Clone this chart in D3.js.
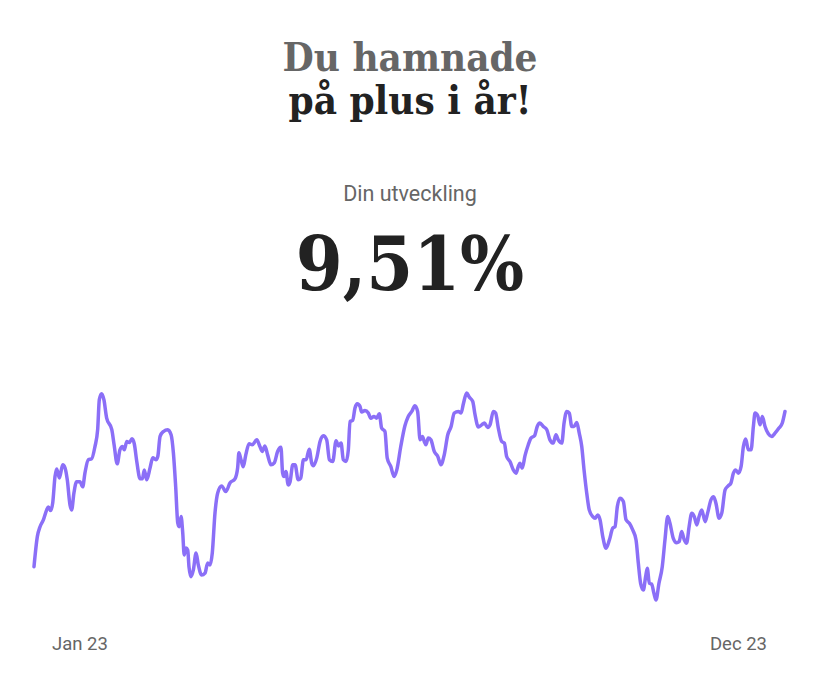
<!DOCTYPE html>
<html lang="sv">
<head>
<meta charset="UTF-8">
<title>Din utveckling</title>
<style>
  body { margin: 0; background: #fff; }
  .slab { font-family: "DejaVu Serif Condensed", "DejaVu Serif", serif; font-stretch: condensed; font-weight: bold; }
</style>
</head>
<body>
<svg id="vis"></svg>
<script src="https://d3js.org/d3.v7.min.js"></script>
<script>
// Data (day of year, development in %)
const days = [0, 1.6, 2.9, 4.5, 6.1, 6.9, 8.0, 9.0, 10.1, 10.9, 12.2, 13.8, 14.9, 16.0, 17.3, 18.1, 19.2, 20.5, 22.1, 23.4,
  24.5, 26.1, 27.7, 29.3, 30.6, 31.4, 32.5, 33.6, 34.9, 37.4, 38.5, 40.0, 41.3, 42.6, 43.4, 44.6, 45.8, 47.1, 48.2, 49.4,
  51.0, 52.1, 53.0, 54.2, 55.8, 57.1, 58.6, 59.5, 60.6, 62.2, 64.3, 65.9, 67.0, 68.1, 69.1, 69.8, 70.7, 71.5, 72.2, 73.1,
  73.9, 74.5, 75.5, 76.6, 77.9, 79.0, 80.6, 82.2, 83.5, 84.6, 85.7, 87.0, 88.3, 90.2, 92.2, 94.2, 96.6, 97.9, 98.5, 99.5,
  100.6, 101.8, 103.4, 104.9, 107.1, 108.6, 109.7, 111.0, 112.3, 113.9, 115.5, 117.1, 118.7, 119.5, 120.2, 121.1, 122.2, 123.1, 124.4, 125.5,
  127.0, 128.2, 129.5, 130.8, 132.3, 133.5, 134.3, 135.9, 137.5, 139.1, 140.7, 142.0, 143.6, 145.2, 146.3, 147.6, 148.7, 150.0, 151.1, 151.9,
  153.2, 154.3, 155.4, 156.7, 157.5, 159.1, 160.7, 161.9, 163.4, 164.7, 166.0, 167.1, 168.7, 169.8, 171.5, 173.1, 174.4, 176.3, 178.3, 179.9,
  181.6, 183.1, 184.4, 185.6, 186.7, 187.6, 188.4, 189.5, 190.8, 192.4, 194.1, 195.6, 197.2, 198.9, 200.5, 202.0, 204.0, 205.3, 206.4, 208.0,
  209.2, 210.9, 212.0, 213.6, 215.2, 216.5, 218.1, 219.2, 220.8, 221.9, 223.2, 224.8, 226.1, 227.2, 228.8, 230.4, 231.7, 232.8, 233.6, 234.7,
  236.0, 237.6, 238.9, 240.6, 241.9, 243.2, 244.8, 246.5, 248.0, 249.6, 250.9, 252.0, 253.7, 254.8, 256.1, 257.3, 258.5, 259.6, 260.9, 262.1,
  263.3, 264.4, 265.7, 266.9, 268.6, 269.7, 271.0, 272.1, 273.4, 275.0, 276.6, 278.2, 279.3, 280.4, 281.7, 283.3, 284.6, 286.2, 287.8, 289.4,
  290.5, 291.6, 292.9, 294.0, 294.8, 295.8, 296.9, 298.0, 299.0, 300.4, 302.0, 303.3, 304.6, 305.7, 307.3, 308.9, 310.1, 311.3, 312.6, 313.7,
  314.9, 316.2, 317.4, 318.6, 319.7, 321.0, 322.6, 323.8, 325.4, 326.7, 327.8, 329.3, 330.6, 332.2, 333.7, 335.0, 336.2, 337.3, 338.6, 339.9,
  341.0, 342.1, 343.4, 344.7, 345.8, 346.6, 347.9, 349.0, 350.1, 351.4, 353.0, 354.6, 356.2, 358.1, 359.7, 361.0]

const values = [0, 1.84, 2.45, 2.87, 3.48, 3.66, 3.44, 3.91, 5.52, 5.99, 5.44, 6.24, 6.06, 5.32, 3.79, 3.48, 4.52, 5.21, 5.21, 4.89,
  5.75, 6.55, 6.61, 7.36, 8.39, 10.23, 10.60, 10.23, 9.12, 8.39, 7.47, 6.30, 7.16, 7.36, 7.16, 7.67, 7.61, 7.83, 7.53, 6.44,
  5.38, 5.38, 5.93, 5.32, 6.06, 6.67, 6.55, 6.75, 7.98, 8.28, 8.39, 8.08, 6.98, 4.91, 2.68, 2.45, 3.07, 2.07, 0.72, 1.15,
  1.02, 0, -0.61, -0.20, 0.84, 0.10, -0.51, -0.39, 0.23, 0.10, 0.84, 3.29, 4.52, 4.95, 4.60, 5.13, 5.38, 6.06, 6.98, 6.55,
  6.12, 6.85, 7.53, 7.47, 7.77, 7.36, 7.06, 7.40, 6.85, 6.24, 6.36, 7.06, 7.31, 5.75, 5.52, 5.83, 5.01, 5.21, 6.24, 6.24,
  5.32, 5.42, 6.55, 6.55, 7.20, 6.34, 6.18, 6.65, 7.67, 8.02, 7.77, 6.55, 6.44, 7.71, 7.40, 7.57, 6.55, 6.44, 7.16, 8.90,
  8.96, 9.72, 9.98, 9.82, 9.47, 9.57, 9.41, 9.10, 9.20, 9.10, 9.37, 8.49, 8.28, 6.65, 6.14, 5.52, 5.93, 7.36, 8.63, 9.20,
  9.51, 9.86, 9.51, 7.77, 7.98, 7.67, 7.47, 7.88, 7.77, 7.06, 6.75, 6.24, 6.85, 8.08, 8.59, 9.41, 9.51, 9.41, 9.98, 10.64,
  10.39, 10.12, 9.31, 8.55, 8.69, 8.80, 8.53, 8.69, 9.51, 9.41, 8.49, 7.67, 7.57, 6.75, 6.44, 5.93, 5.73, 6.14, 6.34, 6.04,
  6.79, 7.47, 7.88, 8.02, 8.59, 8.80, 8.59, 8.39, 7.77, 7.57, 8.08, 7.77, 7.57, 8.80, 9.51, 9.41, 8.59, 8.59, 8.83, 8.18,
  7.36, 5.93, 4.50, 3.48, 3.07, 2.97, 3.17, 2.87, 1.84, 1.13, 1.64, 2.36, 2.45, 3.68, 4.20, 3.99, 2.87, 2.66, 2.25, 1.64,
  0.21, -1.02, -1.43, -0.61, -0.10, -1.02, -1.06, -1.63, -2.04, -1.02, 0, 1.64, 3.07, 2.66, 1.74, 1.47, 1.53, 2.15, 1.64, 1.44,
  2.45, 3.28, 3.07, 2.56, 3.07, 3.48, 2.76, 3.28, 4.09, 4.29, 3.89, 2.97, 3.28, 4.71, 4.95, 5.12, 5.73, 5.93, 5.73, 6.14,
  7.36, 7.82, 7.16, 7.16, 8.59, 9.41, 9.25, 8.69, 9.20, 8.59, 8.14, 7.98, 8.18, 8.49, 8.80, 9.51]

const titleLines = ['Du hamnade', 'på plus i år!']
const subtitle = 'Din utveckling'
const result = '9,51%'
const tickLabels = ['Jan 23', 'Dec 23']

const width = 820
const height = 680

const svg = d3.select('#vis')
  .attr('width', width)
  .attr('height', height)

const series = days.map((d, i) => ({ day: d, value: values[i] }))

// Heading
svg.append('text')
  .attr('class', 'slab')
  .attr('x', 410).attr('y', 71)
  .attr('text-anchor', 'middle')
  .style('font-size', '40px')
  .style('fill', '#666666')
  .text(titleLines[0])

svg.append('text')
  .attr('class', 'slab')
  .attr('x', 410).attr('y', 114)
  .attr('text-anchor', 'middle')
  .style('font-size', '40px')
  .style('fill', '#222222')
  .text(titleLines[1])

svg.append('text')
  .attr('x', 410).attr('y', 201)
  .attr('text-anchor', 'middle')
  .style('font-family', 'Roboto, sans-serif')
  .style('font-size', '21.5px')
  .style('fill', '#666666')
  .text(subtitle)

svg.append('text')
  .attr('class', 'slab')
  .attr('x', 410).attr('y', 290)
  .attr('text-anchor', 'middle')
  .style('font-size', '75px')
  .style('fill', '#222222')
  .text(result)

// Line chart
const x = d3.scaleLinear()
  .domain(d3.extent(days))
  .range([34, 785])

const y = d3.scaleLinear()
  .domain(d3.extent(values))
  .range([600, 393])

const line = d3.line()
  .x(d => x(d.day))
  .y(d => y(d.value))
  .curve(d3.curveMonotoneX)

svg.append('path')
  .datum(series)
  .attr('d', line)
  .attr('fill', 'none')
  .attr('stroke', '#8b6ff7')
  .attr('stroke-width', 3.5)
  .attr('stroke-linejoin', 'round')
  .attr('stroke-linecap', 'round')

// Start / end labels
svg.selectAll('.tick-label')
  .data(tickLabels)
  .enter()
  .append('text')
  .attr('class', 'tick-label')
  .attr('x', (d, i) => i === 0 ? 52 : 767)
  .attr('y', 650)
  .attr('text-anchor', (d, i) => i === 0 ? 'start' : 'end')
  .style('font-family', 'Roboto, sans-serif')
  .style('font-size', '18.5px')
  .style('fill', '#666666')
  .text(d => d)
</script>
</body>
</html>
